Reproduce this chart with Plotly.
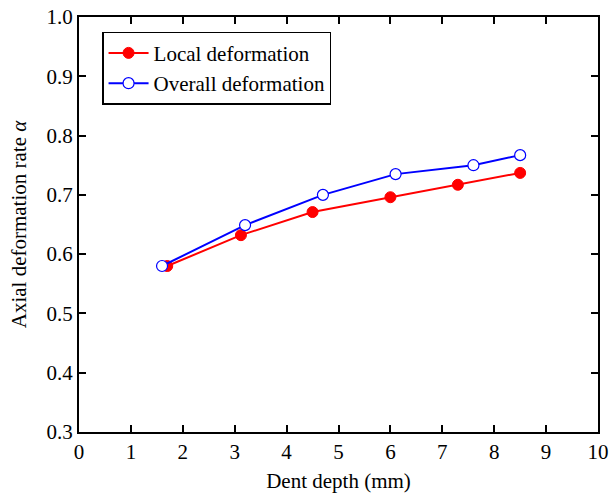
import plotly.graph_objects as go

depth_local = [1.7, 3.12, 4.5, 6.0, 7.3, 8.5]
alpha_local = [0.580, 0.632, 0.671, 0.696, 0.717, 0.737]
depth_overall = [1.6, 3.2, 4.7, 6.1, 7.6, 8.5]
alpha_overall = [0.580, 0.649, 0.700, 0.735, 0.750, 0.767]

fig = go.Figure()
fig.add_trace(go.Scatter(x=depth_local, y=alpha_local, mode="lines+markers",
                         name="Local deformation",
                         line=dict(color="#ff0000", width=2),
                         marker=dict(color="#ff0000", size=11, symbol="circle",
                                     line=dict(color="#ff0000", width=1))))
fig.add_trace(go.Scatter(x=depth_overall, y=alpha_overall, mode="lines+markers",
                         name="Overall deformation",
                         line=dict(color="#0000ff", width=2),
                         marker=dict(color="white", size=11, symbol="circle",
                                     line=dict(color="#0000ff", width=1.2))))

font = "Liberation Serif, Times New Roman, serif"
axis_common = dict(showline=True, linecolor="black", linewidth=2, mirror="ticks",
                   ticks="inside", ticklen=7, tickwidth=1.5, tickcolor="black",
                   showgrid=False, zeroline=False, automargin=False,
                   ticklabeloverflow="allow",
                   tickfont=dict(family=font, size=21, color="black"))
fig.update_layout(
    width=609, height=499,
    margin=dict(l=79, r=11, t=17, b=67),
    paper_bgcolor="white", plot_bgcolor="white",
    font=dict(family=font, size=21, color="black"),
    showlegend=True,
    legend=dict(x=0.045, y=0.965, xanchor="left", yanchor="top",
                bordercolor="black", borderwidth=1.2, bgcolor="white",
                font=dict(family=font, size=21, color="black"),
                tracegroupgap=0, itemwidth=40),
    xaxis=dict(range=[0, 10], dtick=1, title=dict(text="Dent depth (mm)", standoff=10,
               font=dict(family=font, size=21)), **axis_common),
    yaxis=dict(range=[0.3, 1.0], dtick=0.1, tickformat=".1f",
               title=dict(text="Axial deformation rate <i>α</i>", standoff=14,
               font=dict(family=font, size=21)), **axis_common),
)
fig.write_html("out.html", config={"displayModeBar": False},
               post_script="document.body.style.margin='0';")
